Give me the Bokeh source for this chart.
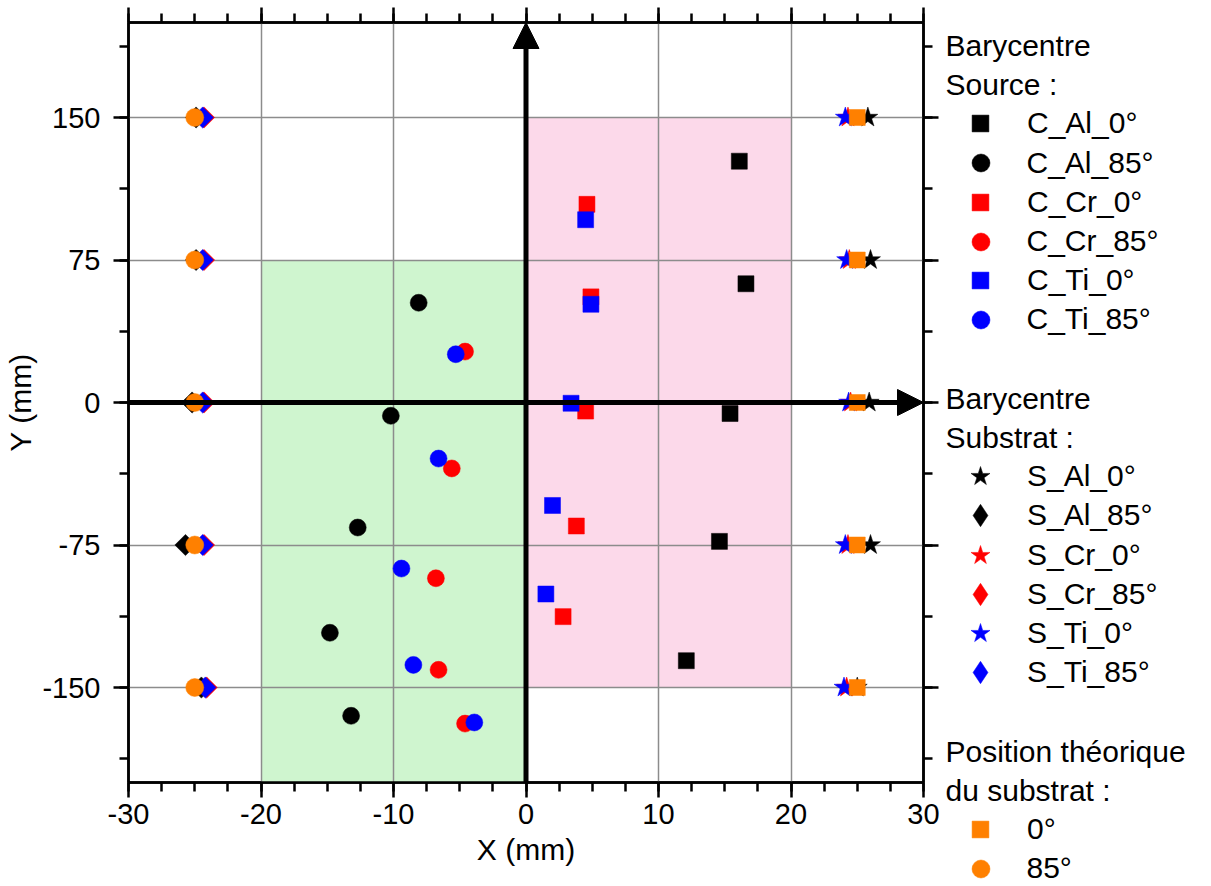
import math
from bokeh.plotting import figure
from bokeh.layouts import row
from bokeh.models import (Range1d, LinearAxis, SingleIntervalTicker, CustomJSTickFormatter,
                          Arrow, NormalHead, Legend, LegendItem, Label)
from bokeh.embed import file_html
from bokeh.resources import INLINE

# ---------------- data ----------------
y_levels = [150, 75, 0, -75, -150]

# Source barycentres (C_...)
c_al_0_x = [16.1, 16.6, 15.4, 14.6, 12.1]
c_al_0_y = [127.0, 62.5, -5.8, -73.1, -135.9]
c_al_85_x = [-8.1, -10.2, -12.7, -14.8, -13.2]
c_al_85_y = [52.5, -7.0, -65.8, -121.2, -164.9]
c_cr_0_x = [4.6, 4.9, 4.5, 3.8, 2.8]
c_cr_0_y = [104.3, 55.6, -4.5, -65.0, -112.7]
c_cr_85_x = [-4.6, -5.6, -6.8, -6.6, -4.6]
c_cr_85_y = [26.8, -34.7, -92.5, -140.7, -169.0]
c_ti_0_x = [4.5, 4.9, 3.4, 2.0, 1.5]
c_ti_0_y = [96.2, 51.7, -0.4, -54.2, -100.8]
c_ti_85_x = [-5.3, -6.6, -9.4, -8.5, -3.9]
c_ti_85_y = [25.4, -29.5, -87.4, -138.1, -168.4]

# Substrate barycentres (S_...)
s_al_0_x = [25.8, 26.0, 25.9, 26.0, 25.0]
s_cr_0_x = [24.3, 24.4, 24.5, 24.3, 24.2]
s_ti_0_x = [24.1, 24.2, 24.35, 24.1, 24.0]
s_al_85_x = [-24.9, -24.9, -25.2, -25.7, -24.5]
s_cr_85_x = [-24.3, -24.3, -24.3, -24.3, -24.1]
s_ti_85_x = [-24.4, -24.4, -24.4, -24.4, -24.2]

# Theoretical substrate positions
theo_0_x = [25, 25, 25, 25, 25]
theo_85_x = [-25, -25, -25, -25, -25]

# Zones (source areas)
zone_left = [-20, 0]
zone_right = [0, 20]
zone_bottom = [-200, -150]
zone_top = [75, 150]

# Legend texts (row index in the legend column; headers have no symbol)
legend_rows = [
    (0, "Barycentre"), (1, "Source :"),
    (2, "C_Al_0°"), (3, "C_Al_85°"), (4, "C_Cr_0°"), (5, "C_Cr_85°"), (6, "C_Ti_0°"), (7, "C_Ti_85°"),
    (9, "Barycentre"), (10, "Substrat :"),
    (11, "S_Al_0°"), (12, "S_Al_85°"), (13, "S_Cr_0°"), (14, "S_Cr_85°"), (15, "S_Ti_0°"), (16, "S_Ti_85°"),
    (18, "Position théorique"), (19, "du substrat :"),
    (20, "0°"), (21, "85°"),
]

# ---------------- styles ----------------
FONT = "Liberation Sans"
BLACK, RED, BLUE, ORANGE = "#000000", "#ff0000", "#0000ff", "#ff8000"
ZONE_COLORS = ["#cff5cf", "#fcd9ea"]
DIAM = math.pi / 4

p = figure(x_range=Range1d(-30, 30), y_range=Range1d(-200, 200),
           frame_width=795, frame_height=760,
           min_border_left=128, min_border_right=20, min_border_top=22, min_border_bottom=104,
           output_backend="svg", toolbar_location=None,
           background_fill_color="white", border_fill_color="white")
p.frame_align = False
p.outline_line_color = "black"
p.outline_line_width = 2.5

xb = p.below[0]
yl = p.left[0]
xb.ticker = SingleIntervalTicker(interval=10, num_minor_ticks=4)
yl.ticker = SingleIntervalTicker(interval=75, num_minor_ticks=2)
xb.formatter = CustomJSTickFormatter(code="return tick.toString()")
yl.formatter = CustomJSTickFormatter(code="return tick.toString()")
xb.axis_label = "X (mm)"
yl.axis_label = "Y (mm)"

top_axis = LinearAxis(ticker=SingleIntervalTicker(interval=10, num_minor_ticks=4),
                      formatter=CustomJSTickFormatter(code="return ''"))
right_axis = LinearAxis(ticker=SingleIntervalTicker(interval=75, num_minor_ticks=2),
                        formatter=CustomJSTickFormatter(code="return ''"))
p.add_layout(top_axis, "above")
p.add_layout(right_axis, "right")

for ax in [xb, yl, top_axis, right_axis]:
    ax.axis_line_width = 2.5
    ax.axis_line_color = "black"
    ax.major_tick_out = 15
    ax.major_tick_in = 0
    ax.minor_tick_out = 9
    ax.minor_tick_in = 0
    ax.major_tick_line_width = 2.5
    ax.minor_tick_line_width = 2.5
    ax.major_tick_line_color = "black"
    ax.minor_tick_line_color = "black"
    ax.major_label_text_font = FONT
    ax.major_label_text_font_size = "29px"
    ax.major_label_text_color = "black"
    ax.axis_label_text_font = FONT
    ax.axis_label_text_font_size = "30px"
    ax.axis_label_text_font_style = "normal"
    ax.axis_label_text_color = "black"

top_axis.major_label_standoff = 0
top_axis.major_label_text_font_size = "1px"
right_axis.major_label_text_font_size = "1px"
xb.major_label_standoff = 6
xb.axis_label_standoff = 6
yl.major_label_standoff = 13
yl.axis_label_standoff = 2

p.grid.grid_line_color = "#8c8c8c"
p.grid.grid_line_width = 1.5

# zones underneath the grid
p.quad(left=zone_left, right=zone_right, bottom=zone_bottom, top=zone_top,
       fill_color=ZONE_COLORS, line_color=None, level="image")

def pts(x, y, marker, color, size, angle=0.0):
    return p.scatter(x=x, y=y, marker=marker, size=size, angle=angle,
                     fill_color=color, line_color=color, line_width=0.5)

pts(c_al_0_x, c_al_0_y, "square", BLACK, 16)
pts(c_al_85_x, c_al_85_y, "circle", BLACK, 17)
pts(c_cr_0_x, c_cr_0_y, "square", RED, 16)
pts(c_cr_85_x, c_cr_85_y, "circle", RED, 17)
pts(c_ti_0_x, c_ti_0_y, "square", BLUE, 16)
pts(c_ti_85_x, c_ti_85_y, "circle", BLUE, 17)

pts(s_al_85_x, y_levels, "square", BLACK, 15, DIAM)
pts(s_cr_85_x, y_levels, "square", RED, 15, DIAM)
pts(s_ti_85_x, y_levels, "square", BLUE, 15, DIAM)
pts(theo_85_x, y_levels, "circle", ORANGE, 18)

pts(s_al_0_x, y_levels, "star", BLACK, 21)
pts(s_cr_0_x, y_levels, "star", RED, 21)
pts(s_ti_0_x, y_levels, "star", BLUE, 21)
pts(theo_0_x, y_levels, "square", ORANGE, 16)

# axes arrows
for xs, ys, xe, ye in [(-30, 0, 30, 0), (0, -200, 0, 200)]:
    p.add_layout(Arrow(end=NormalHead(size=26, fill_color="black", line_color="black", line_width=1),
                       x_start=xs, y_start=ys, x_end=xe, y_end=ye,
                       line_width=5, line_color="black"))

# ---------------- legend panel (pixel coordinates, origin bottom-left) ----------------
LW, LH = 268, 886
lf = figure(width=LW, height=LH, x_range=Range1d(0, LW), y_range=Range1d(0, LH),
            x_axis_type=None, y_axis_type=None, min_border=0,
            output_backend="svg", toolbar_location=None,
            background_fill_color="white", border_fill_color="white")
lf.frame_align = False
lf.outline_line_color = None
lf.grid.visible = False

# symbol style for each legend entry: (marker, colour, glyph box size)
swatch_style = {
    "C_Al_0°": ("square", BLACK, 42), "C_Al_85°": ("circle", BLACK, 45),
    "C_Cr_0°": ("square", RED, 42), "C_Cr_85°": ("circle", RED, 45),
    "C_Ti_0°": ("square", BLUE, 42), "C_Ti_85°": ("circle", BLUE, 45),
    "S_Al_0°": ("star", BLACK, 50), "S_Al_85°": ("diamond", BLACK, 56),
    "S_Cr_0°": ("star", RED, 50), "S_Cr_85°": ("diamond", RED, 56),
    "S_Ti_0°": ("star", BLUE, 50), "S_Ti_85°": ("diamond", BLUE, 56),
    "0°": ("square", ORANGE, 42), "85°": ("circle", ORANGE, 45),
}

ROW0, STEP = 45.0, 39.2      # first row centre and row pitch (px from top)
GLYPH_CX, TEXT_X, OFFSET_X = 37, 84, 2   # symbol centre, label left, header left (px)

for k, txt in legend_rows:
    yc = ROW0 + STEP * k
    if txt in swatch_style:
        marker, color, box = swatch_style[txt]
        r = lf.scatter(x=[0], y=[0], marker=marker, size=10, visible=False,
                       fill_color=color, line_color=color, line_width=0.5)
        lx = GLYPH_CX - box / 2
        lg = Legend(items=[LegendItem(label=txt, renderers=[r])],
                    location=(lx, LH - (yc + box / 2)), orientation="vertical",
                    padding=0, margin=0, spacing=0, glyph_width=box, glyph_height=box,
                    label_height=box, label_standoff=int(round(TEXT_X - lx - box)),
                    border_line_color=None, background_fill_alpha=0,
                    label_text_font=FONT, label_text_font_size="30px", label_text_color="black")
        lf.add_layout(lg)
    else:
        lf.add_layout(Label(x=OFFSET_X, y=LH - yc, text=txt,
                            text_font=FONT, text_font_size="30px", text_color="black",
                            text_baseline="middle", text_align="left"))

layout = row(p, lf, spacing=0)
open("out.html", "w").write(file_html(layout, INLINE))
